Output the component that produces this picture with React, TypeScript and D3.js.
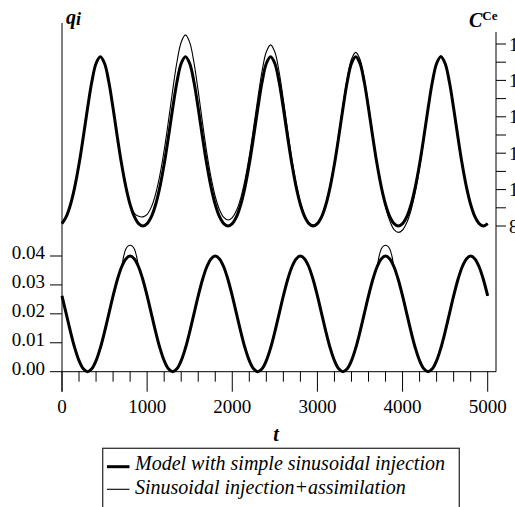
import React from "react";
import * as d3 from "d3";

// time grid (every 50 time units, 0..5000)
const tGrid: number[] = d3.range(0, 5001, 50);

// Upper panel (C^Ce, right axis), model with simple sinusoidal injection
const upperModel: number[] = [
  81.3, 85.1, 91.8, 101.5, 114.0, 128.9, 144.7, 159.1, 169.3, 173.0,
  169.3, 159.1, 144.7, 128.9, 114.0, 101.5, 91.8, 85.1, 81.3, 80.0,
  81.3, 85.1, 91.8, 101.5, 114.0, 128.9, 144.7, 159.1, 169.3, 173.0,
  169.3, 159.1, 144.7, 128.9, 114.0, 101.5, 91.8, 85.1, 81.3, 80.0,
  81.3, 85.1, 91.8, 101.5, 114.0, 128.9, 144.7, 159.1, 169.3, 173.0,
  169.3, 159.1, 144.7, 128.9, 114.0, 101.5, 91.8, 85.1, 81.3, 80.0,
  81.3, 85.1, 91.8, 101.5, 114.0, 128.9, 144.7, 159.1, 169.3, 173.0,
  169.3, 159.1, 144.7, 128.9, 114.0, 101.5, 91.8, 85.1, 81.3, 80.0,
  81.3, 85.1, 91.8, 101.5, 114.0, 128.9, 144.7, 159.1, 169.3, 173.0,
  169.3, 159.1, 144.7, 128.9, 114.0, 101.5, 91.8, 85.1, 81.3, 80.0,
  81.3,
];

// Upper panel, sinusoidal injection + assimilation
const upperAssim: number[] = [
  81.3, 85.1, 91.8, 101.5, 114.0, 128.9, 144.7, 159.1, 169.3, 173.0,
  169.3, 159.1, 144.7, 128.9, 114.0, 101.5, 92.2, 87.0, 85.3, 85.0,
  86.4, 90.5, 97.7, 108.1, 121.6, 137.6, 154.6, 170.1, 181.0, 185.0,
  180.9, 169.8, 154.1, 136.8, 120.5, 106.8, 96.2, 88.9, 84.7, 83.3,
  84.6, 88.6, 95.5, 105.5, 118.5, 133.9, 150.2, 165.1, 175.7, 179.5,
  175.6, 164.7, 149.4, 132.6, 116.7, 103.3, 93.1, 86.0, 81.9, 80.5,
  81.8, 85.7, 92.6, 102.4, 115.2, 130.4, 146.5, 161.2, 171.6, 175.4,
  171.6, 161.1, 146.4, 130.2, 114.9, 102.0, 90.5, 82.8, 78.0, 76.5,
  77.8, 81.9, 88.8, 98.9, 112.0, 127.5, 144.0, 159.0, 169.6, 173.5,
  169.8, 159.5, 145.1, 129.2, 114.2, 101.6, 91.9, 85.2, 81.3, 80.0,
  81.3,
];

// Lower panel (q_i, left axis), model with simple sinusoidal injection
const lowerModel: number[] = [
  0.0262, 0.0200, 0.0138, 0.0082, 0.0038, 0.0010, 0.0000, 0.0010, 0.0038, 0.0082,
  0.0138, 0.0200, 0.0262, 0.0318, 0.0362, 0.0390, 0.0400, 0.0390, 0.0362, 0.0318,
  0.0262, 0.0200, 0.0138, 0.0082, 0.0038, 0.0010, 0.0000, 0.0010, 0.0038, 0.0082,
  0.0138, 0.0200, 0.0262, 0.0318, 0.0362, 0.0390, 0.0400, 0.0390, 0.0362, 0.0318,
  0.0262, 0.0200, 0.0138, 0.0082, 0.0038, 0.0010, 0.0000, 0.0010, 0.0038, 0.0082,
  0.0138, 0.0200, 0.0262, 0.0318, 0.0362, 0.0390, 0.0400, 0.0390, 0.0362, 0.0318,
  0.0262, 0.0200, 0.0138, 0.0082, 0.0038, 0.0010, 0.0000, 0.0010, 0.0038, 0.0082,
  0.0138, 0.0200, 0.0262, 0.0318, 0.0362, 0.0390, 0.0400, 0.0390, 0.0362, 0.0318,
  0.0262, 0.0200, 0.0138, 0.0082, 0.0038, 0.0010, 0.0000, 0.0010, 0.0038, 0.0082,
  0.0138, 0.0200, 0.0262, 0.0318, 0.0362, 0.0390, 0.0400, 0.0390, 0.0362, 0.0318,
  0.0262,
];

// Lower panel, injection + assimilation (on the grid)
const lowerAssim: number[] = [
  0.0262, 0.0200, 0.0138, 0.0082, 0.0038, 0.0010, 0.0000, 0.0010, 0.0038, 0.0082,
  0.0138, 0.0200, 0.0262, 0.0318, 0.0362, 0.0424, 0.0437, 0.0424, 0.0362, 0.0318,
  0.0262, 0.0200, 0.0138, 0.0082, 0.0038, 0.0010, 0.0000, 0.0010, 0.0038, 0.0082,
  0.0138, 0.0200, 0.0262, 0.0318, 0.0362, 0.0390, 0.0400, 0.0390, 0.0362, 0.0318,
  0.0262, 0.0200, 0.0138, 0.0082, 0.0038, 0.0010, 0.0000, 0.0010, 0.0038, 0.0082,
  0.0138, 0.0200, 0.0262, 0.0318, 0.0362, 0.0390, 0.0400, 0.0390, 0.0362, 0.0318,
  0.0262, 0.0200, 0.0138, 0.0082, 0.0038, 0.0010, 0.0000, 0.0010, 0.0038, 0.0082,
  0.0138, 0.0200, 0.0262, 0.0318, 0.0362, 0.0424, 0.0437, 0.0424, 0.0362, 0.0318,
  0.0262, 0.0200, 0.0138, 0.0082, 0.0038, 0.0010, 0.0000, 0.0010, 0.0038, 0.0082,
  0.0138, 0.0200, 0.0262, 0.0318, 0.0362, 0.0390, 0.0400, 0.0390, 0.0362, 0.0318,
  0.0262,
];
// extra points around the assimilation bumps
const bumpT: number[] = [725, 775, 825, 875, 3725, 3775, 3825, 3875];
const bumpV: number[] = [0.0400, 0.0434, 0.0434, 0.0400, 0.0400, 0.0434, 0.0434, 0.0400];

const xTicksMajor: number[] = [0, 1000, 2000, 3000, 4000, 5000];
const lowerTicks: number[] = [0, 0.01, 0.02, 0.03, 0.04];
const upperTicksMajor: number[] = [80, 100, 120, 140, 160, 180];
const upperTicksMinor: number[] = [90, 110, 130, 150, 170];

const legendLabels: string[] = [
  "Model with simple sinusoidal injection",
  "Sinusoidal injection+assimilation",
];

const W = 515;
const H = 507;
const FONT = '"Liberation Serif", "DejaVu Serif", serif';
const TS: React.CSSProperties = { fontFamily: FONT };

export default function App() {
  const x = d3.scaleLinear().domain([0, 5000]).range([62, 487.7]);
  const yU = d3.scaleLinear().domain([80, 180]).range([226, 44]);
  const yL = d3.scaleLinear().domain([0, 0.04]).range([371.7, 256]);

  type P = [number, number];
  const upModelPts: P[] = tGrid.map((t, i) => [t, upperModel[i]]);
  const upAssimPts: P[] = tGrid.map((t, i) => [t, upperAssim[i]]);
  const loModelPts: P[] = tGrid.map((t, i) => [t, lowerModel[i]]);
  const loAssimPts: P[] = tGrid
    .map((t, i) => [t, lowerAssim[i]] as P)
    .concat(bumpT.map((t, i) => [t, bumpV[i]] as P))
    .sort((a, b) => a[0] - b[0]);

  const lineU = d3
    .line<P>()
    .x((d) => x(d[0]))
    .y((d) => yU(d[1]))
    .curve(d3.curveCatmullRom.alpha(0.5));
  const lineL = d3
    .line<P>()
    .x((d) => x(d[0]))
    .y((d) => yL(d[1]))
    .curve(d3.curveCatmullRom.alpha(0.5));

  const xMinor = d3.range(0, 5001, 200).filter((v) => v % 1000 !== 0);
  const x0 = x(0);
  const xRight = 496;
  const yAxis = yL(0);

  return (
    <svg
      width={W}
      height={H}
      style={{ position: "absolute", left: 0, top: 0, background: "#fff", fontFamily: FONT }}
    >
      <rect x={0} y={0} width={W} height={H} fill="#fff" />
      {/* curves */}
      <path d={lineU(upModelPts) || ""} fill="none" stroke="#000" strokeWidth={3} />
      <path d={lineU(upAssimPts) || ""} fill="none" stroke="#000" strokeWidth={1.1} />
      <path d={lineL(loModelPts) || ""} fill="none" stroke="#000" strokeWidth={3} />
      <path d={lineL(loAssimPts) || ""} fill="none" stroke="#000" strokeWidth={1.1} />

      {/* left axis */}
      <line x1={x0} x2={x0} y1={23} y2={yAxis + 20} stroke="#000" strokeWidth={1} />
      {lowerTicks.map((v) => (
        <g key={"ly" + v}>
          <line x1={x0 - 12} x2={x0} y1={yL(v)} y2={yL(v)} stroke="#000" strokeWidth={1} />
          <text x={x0 - 17} y={yL(v) + 3} textAnchor="end" fontSize={19} style={TS}>
            {v.toFixed(2)}
          </text>
        </g>
      ))}

      {/* x axis */}
      <line x1={x0} x2={xRight} y1={yAxis} y2={yAxis} stroke="#000" strokeWidth={1} />
      {xMinor.map((v) => (
        <line key={"xm" + v} x1={x(v)} x2={x(v)} y1={yAxis} y2={yAxis + 10} stroke="#000" strokeWidth={1} />
      ))}
      {xTicksMajor.map((v) => (
        <g key={"xM" + v}>
          <line x1={x(v)} x2={x(v)} y1={yAxis} y2={yAxis + 20} stroke="#000" strokeWidth={1} />
          <text x={x(v)} y={413} textAnchor="middle" fontSize={19} style={TS}>
            {v}
          </text>
        </g>
      ))}
      <text x={276} y={441} textAnchor="middle" fontSize={20} fontWeight="bold" fontStyle="italic" style={TS}>
        t
      </text>

      {/* right axis */}
      <line x1={xRight} x2={xRight} y1={32} y2={yAxis} stroke="#000" strokeWidth={1} />
      {upperTicksMinor.map((v) => (
        <line key={"um" + v} x1={xRight} x2={xRight + 10} y1={yU(v)} y2={yU(v)} stroke="#000" strokeWidth={1} />
      ))}
      {upperTicksMajor.map((v) => (
        <g key={"uM" + v}>
          <line x1={xRight} x2={xRight + 10} y1={yU(v)} y2={yU(v)} stroke="#000" strokeWidth={1} />
          <text x={509} y={yU(v) + 6.5} fontSize={19} style={TS}>
            {v}
          </text>
        </g>
      ))}

      {/* axis titles */}
      <text x={66} y={24} fontSize={20} fontWeight="bold" fontStyle="italic" style={TS}>
        q<tspan fontSize={18} dy={1}>i</tspan>
      </text>
      <text x={469} y={27} fontSize={20} fontWeight="bold" fontStyle="italic" style={TS}>
        C
        <tspan fontSize={13} fontStyle="normal" dy={-7}>
          Ce
        </tspan>
      </text>

      {/* legend */}
      <rect x={102.7} y={448.3} width={356.6} height={80} fill="#fff" stroke="#333" strokeWidth={1.3} />
      <line x1={107} x2={129.5} y1={466.7} y2={466.7} stroke="#000" strokeWidth={3} />
      <line x1={107} x2={129.5} y1={489.3} y2={489.3} stroke="#000" strokeWidth={1.1} />
      <text x={135} y={469.5} fontSize={20} fontStyle="italic" style={TS}>
        {legendLabels[0]}
      </text>
      <text x={135} y={493.5} fontSize={20} fontStyle="italic" style={TS}>
        {legendLabels[1]}
      </text>
    </svg>
  );
}
